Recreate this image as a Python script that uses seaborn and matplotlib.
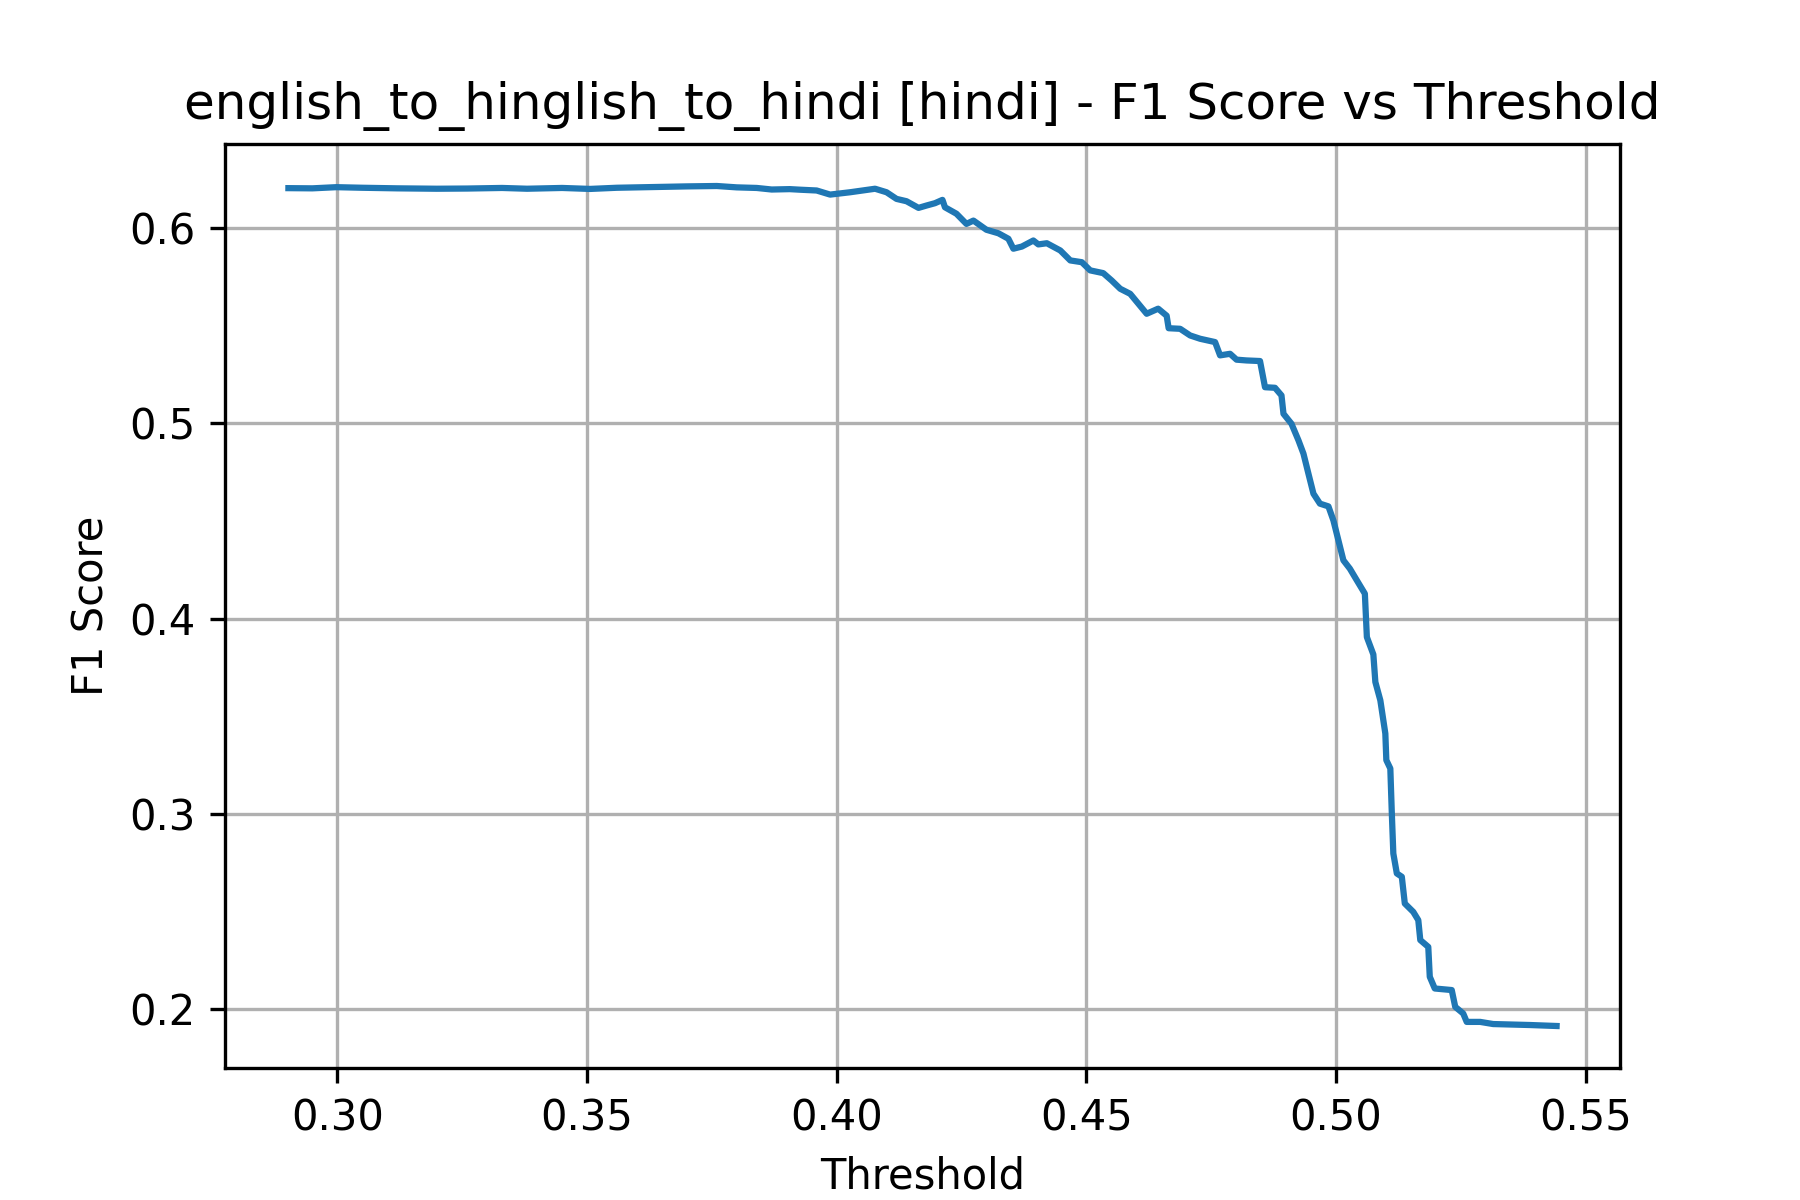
import matplotlib
matplotlib.use("Agg")
import matplotlib.pyplot as plt
import seaborn as sns
import pandas as pd

thresholds = [
    0.2902, 0.2950, 0.2998, 0.3050, 0.3120, 0.3199, 0.3260, 0.3330, 0.3380, 0.3450,
    0.3506, 0.3560, 0.3620, 0.3700, 0.3760, 0.3800, 0.3840, 0.3870, 0.3906, 0.3927,
    0.3960, 0.3987, 0.4027, 0.4077, 0.4100, 0.4120, 0.4140, 0.4164, 0.4180, 0.4197,
    0.4212, 0.4217, 0.4240, 0.4260, 0.4274, 0.4300, 0.4324, 0.4344, 0.4354, 0.4371,
    0.4394, 0.4404, 0.4421, 0.4448, 0.4468, 0.4491, 0.4508, 0.4534, 0.4551, 0.4568,
    0.4588, 0.4621, 0.4644, 0.4661, 0.4665, 0.4688, 0.4708, 0.4728, 0.4758, 0.4768,
    0.4788, 0.4801, 0.4821, 0.4848, 0.4858, 0.4878, 0.4891, 0.4895, 0.4911, 0.4925,
    0.4935, 0.4945, 0.4955, 0.4968, 0.4985, 0.4995, 0.5005, 0.5015, 0.5028, 0.5042,
    0.5058, 0.5062, 0.5075, 0.5079, 0.5089, 0.5099, 0.5101, 0.5109, 0.5112, 0.5115,
    0.5122, 0.5132, 0.5138, 0.5155, 0.5165, 0.5169, 0.5185, 0.5188, 0.5198, 0.5232,
    0.5239, 0.5255, 0.5262, 0.5289, 0.5315, 0.5389, 0.5442,
]
f1_scores = [
    0.6203, 0.6202, 0.6208, 0.6205, 0.6202, 0.6200, 0.6201, 0.6204, 0.6200, 0.6204,
    0.6199, 0.6205, 0.6208, 0.6212, 0.6214, 0.6207, 0.6204, 0.6196, 0.6198, 0.6195,
    0.6191, 0.6170, 0.6182, 0.6200, 0.6182, 0.6148, 0.6136, 0.6102, 0.6114, 0.6126,
    0.6143, 0.6105, 0.6072, 0.6020, 0.6037, 0.5990, 0.5972, 0.5944, 0.5893, 0.5904,
    0.5935, 0.5915, 0.5921, 0.5884, 0.5833, 0.5824, 0.5782, 0.5768, 0.5730, 0.5688,
    0.5662, 0.5560, 0.5586, 0.5550, 0.5486, 0.5483, 0.5449, 0.5432, 0.5415, 0.5347,
    0.5355, 0.5325, 0.5321, 0.5318, 0.5184, 0.5181, 0.5142, 0.5048, 0.4997, 0.4912,
    0.4844, 0.4741, 0.4639, 0.4588, 0.4574, 0.4502, 0.4400, 0.4298, 0.4255, 0.4195,
    0.4127, 0.3905, 0.3816, 0.3675, 0.3581, 0.3411, 0.3275, 0.3232, 0.3002, 0.2797,
    0.2695, 0.2678, 0.2541, 0.2498, 0.2456, 0.2354, 0.2319, 0.2166, 0.2106, 0.2098,
    0.2012, 0.1978, 0.1935, 0.1935, 0.1924, 0.1919, 0.1914,
]

title = "english_to_hinglish_to_hindi [hindi] - F1 Score vs Threshold"
x_label = "Threshold"
y_label = "F1 Score"

df = pd.DataFrame({"Threshold": thresholds, "F1": f1_scores})

fig, ax = plt.subplots(figsize=(6, 4), dpi=300)
sns.lineplot(data=df, x="Threshold", y="F1", ax=ax, estimator=None,
             color="#1f77b4", linewidth=1.5)
ax.set_title(title)
ax.set_xlabel(x_label)
ax.set_ylabel(y_label)
ax.grid(True)
fig.savefig("out.png", dpi=300)
